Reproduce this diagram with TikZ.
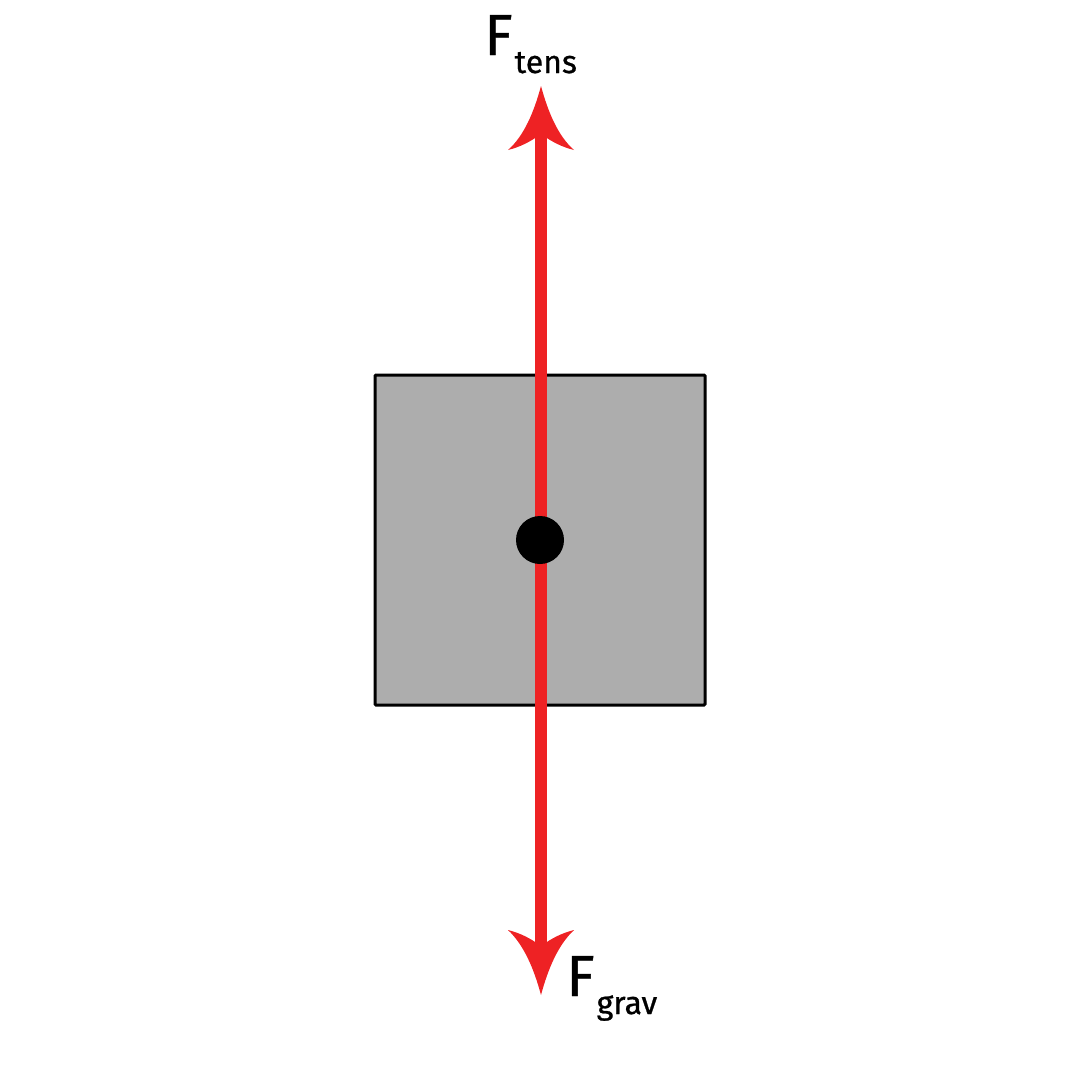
\documentclass[tikz,border=0pt]{standalone}
\usepackage{fontspec}
\setmainfont{Fira Sans}[FakeBold=0.8]
\definecolor{forcered}{HTML}{EE2224}
\definecolor{boxgray}{HTML}{ADADAD}
\tikzset{
  shaft/.style={draw=forcered, line width=12pt},
  headfill/.style={fill=forcered},
  forcelabel/.style={inner sep=0pt, anchor=base west},
}
\newcommand{\forcetxt}[1]{{\fontsize{58}{58}\selectfont F}\hspace{2pt}\raisebox{-18pt}{\fontsize{32}{32}\selectfont #1}}
\begin{document}
\begin{tikzpicture}[x=1pt,y=-1pt]
\useasboundingbox (0,0) rectangle (1080,1080);
% block
\node[draw=black, line width=3pt, fill=boxgray, rounded corners=1pt, minimum width=330pt, minimum height=330pt, inner sep=0pt] (block) at (540,540) {};
% arrow ends
\coordinate (toptip) at (541,86);
\coordinate (bottip) at (541,995);
% shafts
\draw[shaft] (541,120) -- (541,530);
\draw[shaft] (541,550) -- (541,960);
% heads
\fill[headfill] (toptip) .. controls (534,112) and (524,136) .. (508,150)
  .. controls (520,147) and (530,142) .. (541,134)
  .. controls (552,142) and (562,147) .. (574,150)
  .. controls (558,136) and (548,112) .. (toptip) -- cycle;
\fill[headfill] (bottip) .. controls (534,969) and (524,945) .. (508,930)
  .. controls (520,933) and (530,938) .. (541,946)
  .. controls (552,938) and (562,933) .. (574,930)
  .. controls (558,945) and (548,969) .. (bottip) -- cycle;
% centre of mass
\node[circle, fill=black, minimum size=48pt, inner sep=0pt] (com) at (540,540) {};
% labels
\node[forcelabel] (tenslabel) at (484,55) {\forcetxt{tens}};
\node[forcelabel] (gravlabel) at (566,996) {\forcetxt{grav}};
\end{tikzpicture}
\end{document}
